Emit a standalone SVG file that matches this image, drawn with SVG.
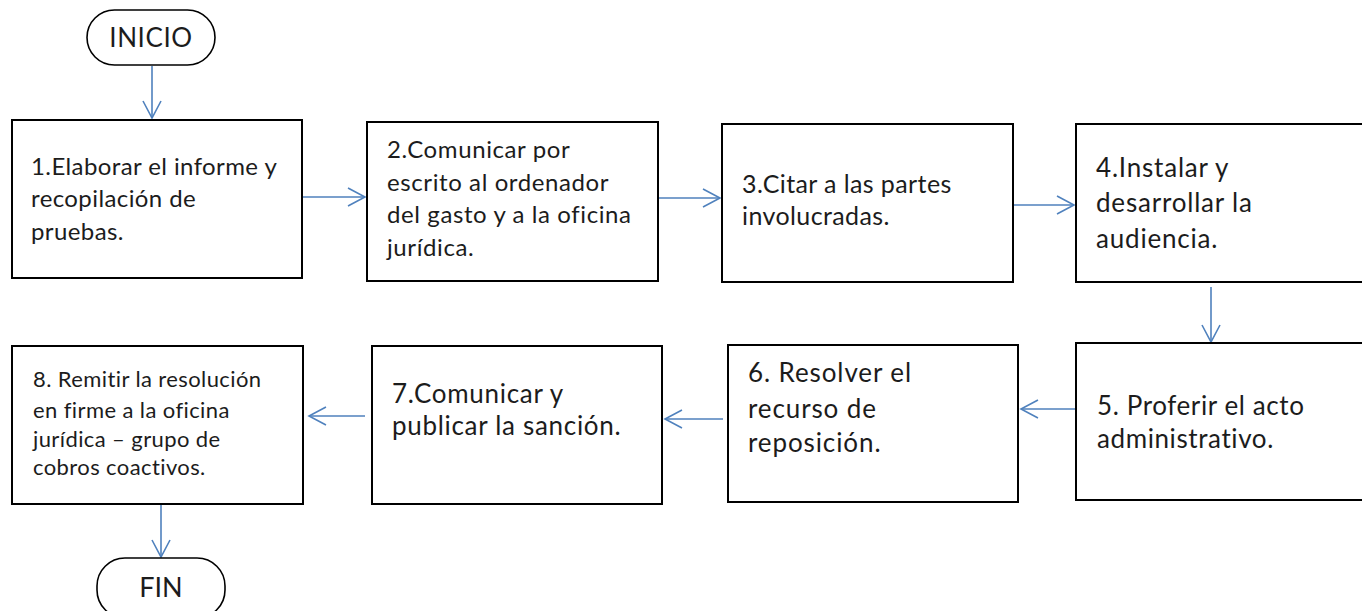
<svg xmlns="http://www.w3.org/2000/svg" width="1362" height="611" viewBox="0 0 1362 611">
<style>
.box{fill:#fff;stroke:#000;stroke-width:2}
.term{fill:#fff;stroke:#000;stroke-width:1.6}
.t{font-family:Lato,"Liberation Sans",sans-serif;fill:#1c1c1c}
.conn{stroke:#4f81bd;stroke-width:1.6;fill:none;marker-end:url(#ah)}
</style>
<defs>
<marker id="ah" viewBox="0 0 20 20" refX="18" refY="10" markerWidth="20" markerHeight="20" markerUnits="userSpaceOnUse" orient="auto">
<path d="M1,1 L18,10 L1,19" fill="none" stroke="#4f81bd" stroke-width="1.6"/>
</marker>
</defs>
<rect width="1362" height="611" fill="#fff"/>
<g id="connectors">
<line class="conn" x1="152" y1="66" x2="152" y2="118"/>
<line class="conn" x1="302" y1="197" x2="365" y2="197"/>
<line class="conn" x1="658" y1="198" x2="720" y2="198"/>
<line class="conn" x1="1013" y1="205" x2="1074" y2="205"/>
<line class="conn" x1="1211" y1="287" x2="1211" y2="342"/>
<line class="conn" x1="1076" y1="409" x2="1021" y2="409"/>
<line class="conn" x1="723" y1="419" x2="665" y2="419"/>
<line class="conn" x1="365" y1="416" x2="309" y2="416"/>
<line class="conn" x1="161" y1="504" x2="161" y2="557"/>
</g>
<g id="inicio">
<rect class="term" x="87" y="10" width="128" height="55" rx="27.5"/>
<text class="t" x="151" y="47" font-size="26" letter-spacing="0.6" text-anchor="middle">INICIO</text>
</g>
<g id="n1">
<rect class="box" x="12" y="120" width="290" height="158"/>
<text class="t" font-size="24" letter-spacing="0.4"><tspan x="31" y="175">1.Elaborar el informe y</tspan><tspan x="31" y="207">recopilación de</tspan><tspan x="31" y="240">pruebas.</tspan></text>
</g>
<g id="n2">
<rect class="box" x="367" y="122" width="291" height="159"/>
<text class="t" font-size="24" letter-spacing="0.6"><tspan x="387" y="158">2.Comunicar por</tspan><tspan x="387" y="191">escrito al ordenador</tspan><tspan x="387" y="223">del gasto y a la oficina</tspan><tspan x="387" y="256">jurídica.</tspan></text>
</g>
<g id="n3">
<rect class="box" x="722" y="124" width="291" height="158"/>
<text class="t" font-size="25" letter-spacing="0.4"><tspan x="742" y="193">3.Citar a las partes</tspan><tspan x="742" y="225">involucradas.</tspan></text>
</g>
<g id="n4">
<rect class="box" x="1076" y="124" width="300" height="158"/>
<text class="t" font-size="26" letter-spacing="0.8"><tspan x="1096" y="177">4.Instalar y</tspan><tspan x="1096" y="212">desarrollar la</tspan><tspan x="1096" y="248">audiencia.</tspan></text>
</g>
<g id="n5">
<rect class="box" x="1076" y="343" width="300" height="157"/>
<text class="t" font-size="26" letter-spacing="0.6"><tspan x="1097" y="415">5. Proferir el acto</tspan><tspan x="1097" y="448">administrativo.</tspan></text>
</g>
<g id="n6">
<rect class="box" x="728" y="345" width="290" height="157"/>
<text class="t" font-size="26" letter-spacing="0.9"><tspan x="748" y="382">6. Resolver el</tspan><tspan x="748" y="418">recurso de</tspan><tspan x="748" y="452">reposición.</tspan></text>
</g>
<g id="n7">
<rect class="box" x="372" y="346" width="290" height="158"/>
<text class="t" font-size="26" letter-spacing="0.7"><tspan x="392" y="403">7.Comunicar  y</tspan><tspan x="392" y="435">publicar la sanción.</tspan></text>
</g>
<g id="n8">
<rect class="box" x="12" y="346" width="291" height="158"/>
<text class="t" font-size="22" letter-spacing="0.4"><tspan x="33" y="387">8. Remitir la resolución</tspan><tspan x="33" y="418">en firme a la oficina</tspan><tspan x="33" y="447">jurídica – grupo de</tspan><tspan x="33" y="475">cobros coactivos.</tspan></text>
</g>
<g id="fin">
<rect class="term" x="97" y="558" width="128" height="60" rx="28"/>
<text class="t" x="161" y="597" font-size="27" text-anchor="middle">FIN</text>
</g>
</svg>
